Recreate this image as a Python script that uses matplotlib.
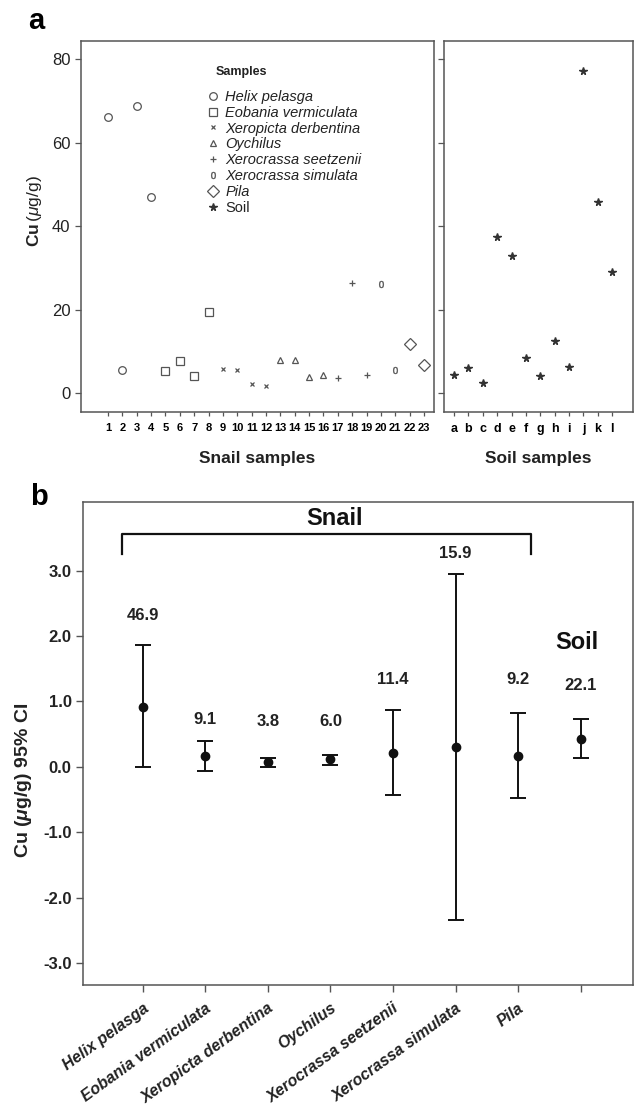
import matplotlib
matplotlib.use("Agg")
import matplotlib.pyplot as plt

plt.rcParams['font.family'] = ['Liberation Sans', 'DejaVu Sans']
plt.rcParams['mathtext.fontset'] = 'custom'
plt.rcParams['mathtext.rm'] = 'Liberation Sans'
plt.rcParams['mathtext.it'] = 'Liberation Sans:italic'
plt.rcParams['mathtext.bf'] = 'Liberation Sans:bold'
plt.rcParams['mathtext.bfit'] = 'Liberation Sans:bold:italic'

# ---------------- data: panel a ----------------
snail_ids = [str(i) for i in range(1, 24)]
snail_species = (['Helix pelasga'] * 4 + ['Eobania vermiculata'] * 4 +
                 ['Xeropicta derbentina'] * 4 + ['Oychilus'] * 4 +
                 ['Xerocrassa seetzenii'] * 3 + ['Xerocrassa simulata'] * 2 +
                 ['Pila'] * 2)
snail_cu = [66.2, 5.6, 68.9, 46.9,
            5.3, 7.6, 4.1, 19.4,
            5.8, 5.5, 2.1, 1.6,
            8.0, 7.8, 3.8, 4.4,
            3.5, 26.4, 4.2,
            26.2, 5.6,
            11.7, 6.7]
soil_ids = list('abcdefghijkl')
soil_cu = [4.3, 5.9, 2.3, 37.3, 32.8, 8.4, 4.0, 12.4, 6.1, 77.2, 45.9, 29.1]

# ---------------- data: panel b ----------------
groups = ['Helix pelasga', 'Eobania vermiculata', 'Xeropicta derbentina',
          'Oychilus', 'Xerocrassa seetzenii', 'Xerocrassa simulata', 'Pila', 'Soil']
ci_mean = [0.92, 0.17, 0.07, 0.12, 0.21, 0.31, 0.17, 0.43]
ci_low = [0.00, -0.06, 0.00, 0.03, -0.43, -2.34, -0.47, 0.14]
ci_high = [1.86, 0.40, 0.13, 0.18, 0.87, 2.95, 0.82, 0.73]
mean_cu = ['46.9', '9.1', '3.8', '6.0', '11.4', '15.9', '9.2', '22.1']

# ---------------- styles ----------------
species_order = ['Helix pelasga', 'Eobania vermiculata', 'Xeropicta derbentina',
                 'Oychilus', 'Xerocrassa seetzenii', 'Xerocrassa simulata', 'Pila']
marker_style = {
    'Helix pelasga': dict(marker='o', ms=5.5, mfc='none'),
    'Eobania vermiculata': dict(marker='s', ms=5.5, mfc='none'),
    'Xeropicta derbentina': dict(marker='x', ms=3.5),
    'Oychilus': dict(marker='^', ms=4, mfc='none'),
    'Xerocrassa seetzenii': dict(marker='+', ms=5),
    'Xerocrassa simulata': dict(marker='$0$', ms=5, mew=0.3),
    'Pila': dict(marker='D', ms=6, mfc='none'),
}
mcol = '#555555'
spine_col = '#555555'
narrow = ['Liberation Sans Narrow', 'Liberation Sans', 'DejaVu Sans']

fig = plt.figure(figsize=(6.35, 11.19), dpi=100)
ax1 = fig.add_axes([0.1276, 0.6318, 0.556, 0.3318])
ax2 = fig.add_axes([0.6992, 0.6318, 0.298, 0.3318])
ax3 = fig.add_axes([0.1312, 0.1195, 0.866, 0.4319])

# ---- panel a, snails ----
xpos = list(range(1, len(snail_ids) + 1))
for sp in species_order:
    xs = [x for x, s in zip(xpos, snail_species) if s == sp]
    ys = [v for v, s in zip(snail_cu, snail_species) if s == sp]
    st = dict(marker_style[sp])
    st.setdefault('mew', 0.9)
    ax1.plot(xs, ys, linestyle='none', color=mcol, mec=mcol, label=sp, **st)

xsoil = list(range(1, len(soil_ids) + 1))
ax2.plot(xsoil, soil_cu, linestyle='none', marker='*', ms=5.5, color='#333333',
         mec='#333333', label='Soil')

for ax in (ax1, ax2):
    ax.set_ylim(-4.6, 84.5)
    ax.set_yticks([0, 20, 40, 60, 80])
    for s in ax.spines.values():
        s.set_color(spine_col)
        s.set_linewidth(1.1)
    ax.tick_params(axis='both', direction='out', length=4.5, width=0.9, color=spine_col)
    ax.tick_params(axis='x', length=3, pad=5)

ax1.set_xlim(-0.88, 23.70)
ax1.set_xticks(xpos)
ax1.set_xticklabels(snail_ids, fontsize=8, fontweight='bold', family=narrow)
ax1.tick_params(axis='y', labelsize=12, labelcolor='#222222', pad=3)
ax1.set_xlabel('Snail samples', fontsize=12.5, fontweight='bold', color='#222222')
ax1.xaxis.set_label_coords(0.5, -0.105)
ax1.set_ylabel(r'$\mathbf{Cu}\,(\mu\mathrm{g/g})$', fontsize=12.5, color='#222222')
ax1.yaxis.set_label_coords(-0.105, 0.54)

ax2.set_xlim(0.30, 13.46)
ax2.set_xticks(xsoil)
ax2.set_xticklabels(soil_ids, fontsize=9, fontweight='bold', family=narrow)
ax2.set_yticklabels([])
ax2.set_xlabel('Soil samples', fontsize=12.5, fontweight='bold', color='#222222')
ax2.xaxis.set_label_coords(0.5, -0.105)

h1, l1 = ax1.get_legend_handles_labels()
h2, l2 = ax2.get_legend_handles_labels()
leg = ax1.legend(h1 + h2, l1 + l2, loc='upper left',
                 bbox_to_anchor=(0.355, 0.868), frameon=False, fontsize=10.5,
                 handlelength=0.9, handletextpad=0.4, borderpad=0,
                 labelspacing=0.13, borderaxespad=0)
for t in leg.get_texts():
    if t.get_text() != 'Soil':
        t.set_style('italic')
    t.set_color('#222222')
ax1.text(0.380, 0.916, 'Samples', transform=ax1.transAxes, ha='left', va='center',
         fontsize=9, fontweight='bold', color='#222222')

# ---- panel b ----
gx = list(range(len(groups)))
yerr = [[m - lo for m, lo in zip(ci_mean, ci_low)],
        [hi - m for m, hi in zip(ci_mean, ci_high)]]
ax3.errorbar(gx, ci_mean, yerr=yerr, fmt='o', color='#111111', ms=6,
             elinewidth=1.4, capsize=5.5, capthick=1.4)

label_y = [2.31, 0.72, 0.69, 0.69, 1.33, 3.26, 1.33, 1.24]
for x, txt, y in zip(gx, mean_cu, label_y):
    ax3.text(x, y, txt, ha='center', va='center', fontsize=12,
             fontweight='bold', color='#222222')

ax3.set_xlim(-0.95, 7.84)
ax3.set_ylim(-3.34, 4.05)
ax3.set_yticks([-3, -2, -1, 0, 1, 2, 3])
ax3.set_yticklabels(['%.1f' % v for v in [-3, -2, -1, 0, 1, 2, 3]],
                    fontsize=12, fontweight='bold', color='#222222')
ax3.set_xticks(gx)
ax3.set_xticklabels(groups[:-1] + [''], rotation=36, ha='right',
                    rotation_mode='anchor', fontsize=11.5, fontweight='bold',
                    style='italic', color='#222222')
for s in ax3.spines.values():
    s.set_color(spine_col)
    s.set_linewidth(1.1)
ax3.tick_params(axis='both', direction='out', length=5, width=1.0, color=spine_col)
ax3.tick_params(axis='x', pad=6)
ax3.set_ylabel(r'$\mathbf{Cu\ (}\mathbfit{\mu}\mathbf{g/g)\ 95\%\ CI}$',
               fontsize=14, color='#222222')
ax3.yaxis.set_label_coords(-0.09, 0.424)

# Snail bracket and group titles
ax3.plot([-0.325, -0.325, 6.2, 6.2], [3.25, 3.56, 3.56, 3.25], color='#111111', lw=1.6)
ax3.text(3.07, 3.79, 'Snail', ha='center', va='center', fontsize=17, fontweight='bold',
         color='#111111')
ax3.text(6.94, 1.90, 'Soil', ha='center', va='center', fontsize=17, fontweight='bold',
         color='#111111')

fig.text(28 / 635, 1 - 29 / 1119, 'a', fontsize=21, fontweight='bold', va='baseline')
fig.text(30 / 635, 1 - 505 / 1119, 'b', fontsize=21, fontweight='bold', va='baseline')

fig.savefig('out.png', dpi=100)
